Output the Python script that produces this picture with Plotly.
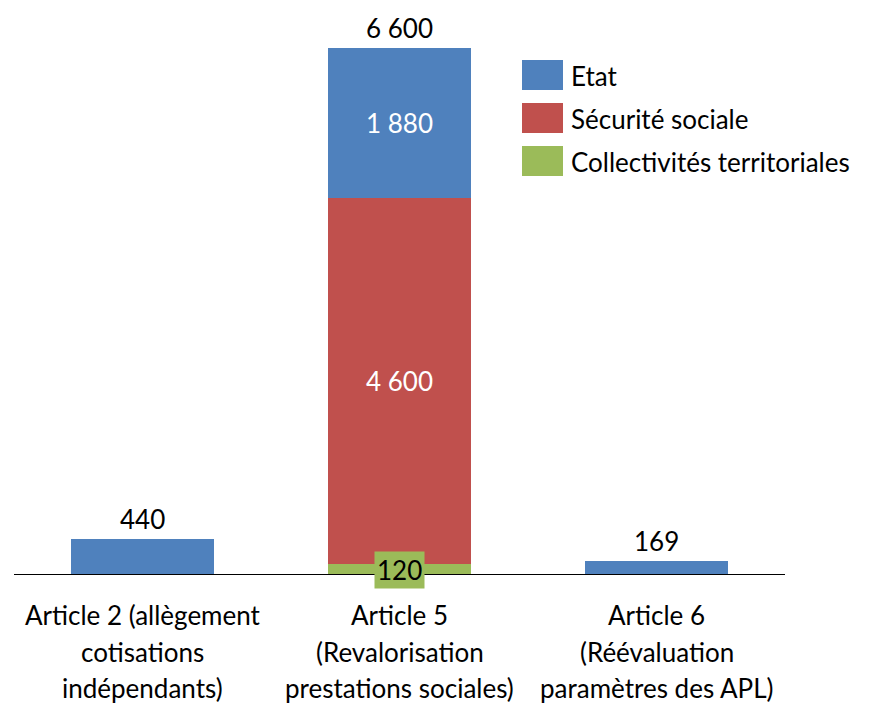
import plotly.graph_objects as go

categories = ["Article 2", "Article 5", "Article 6"]
tick_lines = [
    ["Article 2 (allègement", "cotisations", "indépendants)"],
    ["Article 5", "(Revalorisation", "prestations sociales)"],
    ["Article 6", "(Réévaluation", "paramètres des APL)"],
]
collectivites = [0, 120, 0]
securite = [0, 4600, 0]
etat = [440, 1880, 169]

series = [
    ("Collectivités territoriales", collectivites, "#9BBB59"),
    ("Sécurité sociale", securite, "#C0504D"),
    ("Etat", etat, "#4F81BD"),
]

FONT = "Lato"
FS = 26

def fmt(v):
    return f"{v:,}".replace(",", " ")

# page has an 8px body margin: work in page pixels, then convert
OFF = 8
W, H = 878 - 2 * OFF, 720 - 2 * OFF
L, R_, T, B = 14 - OFF, 785 - OFF, 16 - OFF, 574 - OFF

fig = go.Figure()
for name, vals, col in series:
    fig.add_trace(go.Bar(
        x=categories, y=vals, name=name, marker_color=col,
        marker_line_width=0, showlegend=False,
        text=[fmt(v) if v >= 1000 else "" for v in vals],
        textposition="inside", insidetextanchor="middle",
        textfont=dict(family=FONT, size=FS, color="white"),
        hoverinfo="skip",
    ))

totals = [sum(s[1][i] for s in series) for i in range(len(categories))]
annotations = []
for c, t in zip(categories, totals):
    annotations.append(dict(x=c, y=t, xref="x", yref="y", text=fmt(t),
                            showarrow=False, yanchor="bottom", yshift=2,
                            font=dict(family=FONT, size=FS, color="black")))
for c, v in zip(categories, collectivites):
    if v > 0:
        annotations.append(dict(x=c, y=0, xref="x", yref="y", text=fmt(v),
                                showarrow=False, yanchor="middle", yshift=4,
                                bgcolor="#9BBB59", borderpad=2,
                                font=dict(family=FONT, size=FS, color="black")))
for c, lines in zip(categories, tick_lines):
    for k, line in enumerate(lines):
        annotations.append(dict(x=c, y=0, xref="x", yref="y", text=line,
                                showarrow=False, yanchor="middle",
                                yshift=-(41 + 36.5 * k),
                                font=dict(family=FONT, size=FS, color="black")))

def px(xp):
    return (xp - OFF - L) / (R_ - L)
def py(yp):
    return (B - (yp - OFF)) / (B - T)

shapes = []
leg_order = [series[2], series[1], series[0]]
for k, (name, vals, col) in enumerate(leg_order):
    top = 60 + 43 * k
    shapes.append(dict(type="rect", xref="paper", yref="paper",
                       x0=px(522), x1=px(563), y0=py(top + 30), y1=py(top),
                       fillcolor=col, line_width=0))
    annotations.append(dict(x=px(569), y=py(top + 16), xref="paper", yref="paper",
                            text=name, showarrow=False, xanchor="left", yanchor="middle",
                            font=dict(family=FONT, size=FS, color="black")))

fig.update_layout(
    width=W, height=H,
    margin=dict(l=L, r=W - R_, t=T, b=H - B),
    paper_bgcolor="white", plot_bgcolor="white",
    barmode="stack", bargap=0.444,
    xaxis=dict(showline=True, linecolor="black", linewidth=1,
               showticklabels=False, ticks="", showgrid=False,
               range=[-0.5, 2.5], zeroline=False),
    yaxis=dict(visible=False, range=[0, 7000], showgrid=False, zeroline=False),
    shapes=shapes, annotations=annotations,
    uniformtext=dict(mode="show", minsize=FS),
)

fig.write_html("out.html")
